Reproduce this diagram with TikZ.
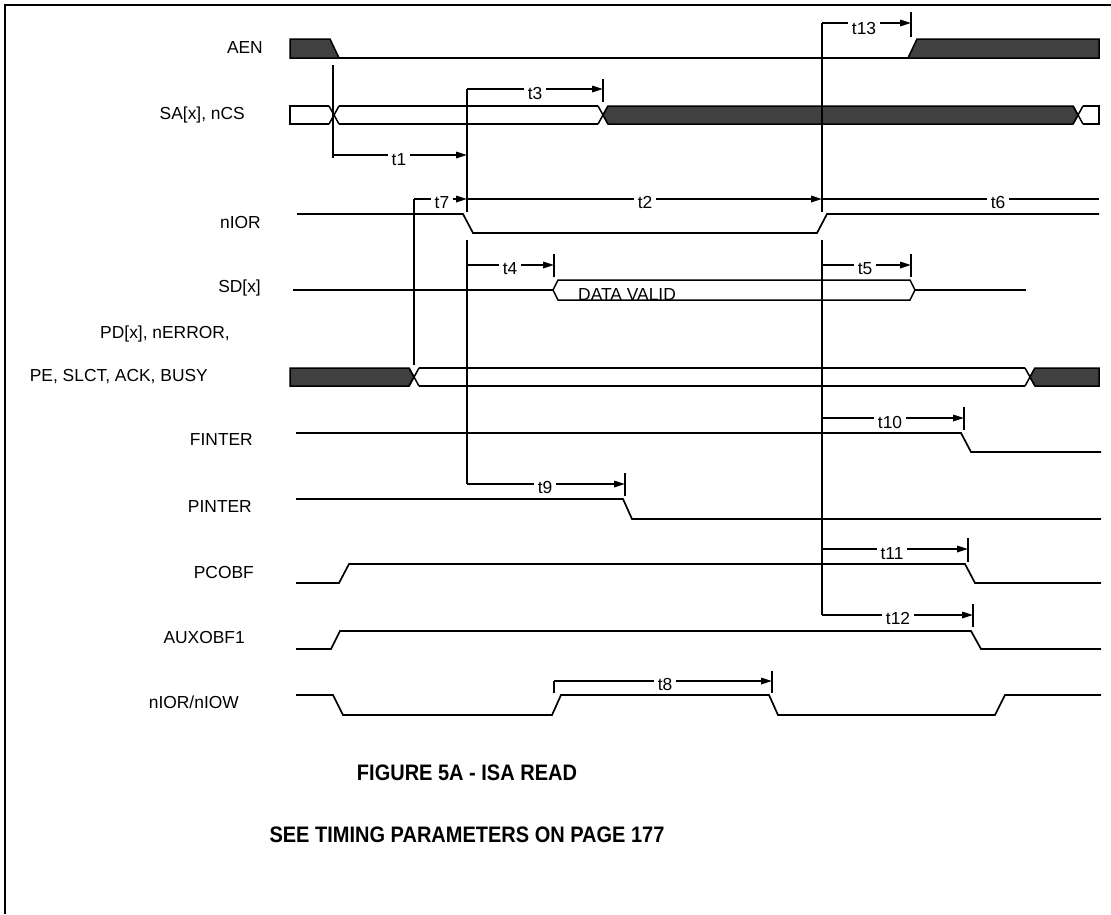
\documentclass[tikz,border=0pt]{standalone}
\usepackage{fontspec}
\usepackage{graphicx}
\setmainfont{Liberation Sans}
\usetikzlibrary{arrows.meta}
\definecolor{busgray}{HTML}{404040}
\tikzset{
  sig/.style={line width=1.7pt, line join=miter},
  busline/.style={line width=1.5pt},
  busfill/.style={fill=busgray, draw=black, line width=1.5pt, line join=miter},
  tline/.style={line width=1.6pt},
  tarr/.style={tline, -{Triangle[length=11pt,width=6.5pt]}},
  tick/.style={line width=1.8pt},
  tlab/.style={fill=white, inner xsep=4pt, inner ysep=1pt, anchor=base, font=\fontsize{17.4}{20}\selectfont},
  siglab/.style={inner sep=0pt, anchor=base east, font=\fontsize{17.4}{20}\selectfont},
  ttl/.style={inner sep=0pt, anchor=base, font=\fontsize{20}{24}\selectfont\bfseries}
}
\begin{document}
\begin{tikzpicture}[x=1pt,y=-1pt]
\useasboundingbox (0,0) rectangle (1111,914);
% frame
\draw[line width=2.6pt] (5,914) -- (5,5) -- (1111,5);

% ---------- signal labels ----------
\node[siglab] (lAEN)  at (263,53)  {AEN};
\node[siglab] (lSA)   at (245,119) {SA[x], nCS};
\node[siglab] (lIOR)  at (261,228) {nIOR};
\node[siglab] (lSD)   at (261,292) {SD[x]};
\node[siglab] (lPD1)  at (230,338) {PD[x], nERROR,};
\node[siglab] (lPD2)  at (208,381) {PE, SLCT, ACK, BUSY};
\node[siglab] (lFI)   at (253,445) {FINTER};
\node[siglab] (lPI)   at (252,512) {PINTER};
\node[siglab] (lPC)   at (254,578) {PCOBF};
\node[siglab] (lAUX)  at (245,643) {AUXOBF1};
\node[siglab] (lIOW)  at (239,708) {nIOR/nIOW};

% ---------- AEN ----------
\fill[busfill] (290,39) -- (330,39) -- (339,58) -- (290,58) -- cycle;
\draw[sig] (339,58) -- (908,58);
\fill[busfill] (908,58) -- (917,39) -- (1099,39) -- (1099,58) -- cycle;

% ---------- SA[x], nCS ----------
\draw[busline] (329,106) -- (290,106) -- (290,124) -- (329,124);
\draw[busline] (329,106) -- (339,124) (329,124) -- (339,106);
\draw[busline] (339,106) -- (598,106) (339,124) -- (598,124);
\draw[busline] (598,106) -- (608,124) (598,124) -- (608,106);
\fill[busfill] (603,115) -- (608,106) -- (1073,106) -- (1078,115) -- (1073,124) -- (608,124) -- cycle;
\draw[busline] (1073,106) -- (1083,124) (1073,124) -- (1083,106);
\draw[busline] (1083,106) -- (1099,106) -- (1099,124) -- (1083,124);

% ---------- nIOR ----------
\draw[sig] (297,214) -- (463,214) -- (473,233) -- (817,233) -- (827,214) -- (1099,214);

% ---------- SD[x] ----------
\draw[sig] (293,290) -- (553,290);
\draw[busline] (910,280) -- (558,280) -- (553,290) -- (558,300) -- (910,300) -- (915,290) -- cycle;
\draw[sig] (915,290) -- (1026,290);
\node[inner sep=0pt, anchor=base west, font=\fontsize{17.4}{20}\selectfont] (dv) at (578,300) {DATA VALID};

% ---------- PD[x] ... ----------
\fill[busfill] (290,368) -- (409,368) -- (414,377) -- (409,386) -- (290,386) -- cycle;
\draw[busline] (409,368) -- (419,386) (409,386) -- (419,368);
\draw[busline] (419,368) -- (1025,368) (419,386) -- (1025,386);
\draw[busline] (1025,368) -- (1035,386) (1025,386) -- (1035,368);
\fill[busfill] (1030,377) -- (1035,368) -- (1099,368) -- (1099,386) -- (1035,386) -- cycle;

% ---------- FINTER ----------
\draw[sig] (296,433) -- (961,433) -- (971,452) -- (1101,452);
% ---------- PINTER ----------
\draw[sig] (296,499) -- (623,499) -- (632,519) -- (1101,519);
% ---------- PCOBF ----------
\draw[sig] (296,583) -- (339,583) -- (349,564) -- (965,564) -- (975,583) -- (1101,583);
% ---------- AUXOBF1 ----------
\draw[sig] (296,649) -- (331,649) -- (340,631) -- (971,631) -- (981,649) -- (1101,649);
% ---------- nIOR/nIOW ----------
\draw[sig] (296,695) -- (333,695) -- (343,715) -- (552,715) -- (561,695) -- (769,695) -- (778,715) -- (995,715) -- (1005,695) -- (1101,695);

% ---------- timing reference verticals ----------
\coordinate (ra) at (467,89);
\coordinate (rb) at (822,23);
\draw[tline] (ra) -- (467,212) (467,240) -- (467,484);
\draw[tline] (rb) -- (822,212) (822,240) -- (822,615);
\draw[tline] (333,65) -- (333,158);
\draw[tline] (414,199) -- (414,365);

% ---------- timing arrows ----------
\draw[tarr] (333,155) -- (467,155);
\draw[tarr] (ra) -- (603,89);
\draw[tick] (603,79) -- (603,102);
\draw[tarr] (414,199) -- (467,199);
\draw[tarr] (467,199) -- (822,199);
\draw[tline] (822,199) -- (1099,199);
\draw[tarr] (rb) -- (911,23);
\draw[tick] (911,12) -- (911,37);
\draw[tarr] (467,265) -- (554,265);
\draw[tick] (554,254) -- (554,277);
\draw[tarr] (822,265) -- (911,265);
\draw[tick] (911,254) -- (911,277);
\draw[tarr] (822,418) -- (964,418);
\draw[tick] (964,407) -- (964,430);
\draw[tarr] (467,484) -- (625,484);
\draw[tick] (625,473) -- (625,496);
\draw[tarr] (822,549) -- (968,549);
\draw[tick] (968,538) -- (968,562);
\draw[tarr] (822,615) -- (973,615);
\draw[tick] (973,604) -- (973,627);
\draw[tick] (554,693) -- (554,681);
\draw[tarr] (554,681) -- (772,681);
\draw[tick] (772,671) -- (772,693);

% ---------- timing labels ----------
\node[tlab] (t1)  at (399,165) {t1};
\node[tlab] (t3)  at (535,99)  {t3};
\node[tlab] (t7)  at (442,208) {t7};
\node[tlab] (t2)  at (645,208) {t2};
\node[tlab] (t6)  at (998,208) {t6};
\node[tlab] (t13) at (864,34)  {t13};
\node[tlab] (t4)  at (510,274) {t4};
\node[tlab] (t5)  at (865,274) {t5};
\node[tlab] (t10) at (890,428) {t10};
\node[tlab] (t9)  at (545,493) {t9};
\node[tlab] (t11) at (892,559) {t11};
\node[tlab] (t12) at (898,624) {t12};
\node[tlab] (t8)  at (665,690) {t8};

% ---------- captions ----------
\node[ttl] (cap1) at (467,780) {\scalebox{1}[1.12]{FIGURE 5A - ISA READ}};
\node[ttl] (cap2) at (467,842) {\scalebox{1}[1.12]{SEE TIMING PARAMETERS ON PAGE 177}};
\end{tikzpicture}
\end{document}
